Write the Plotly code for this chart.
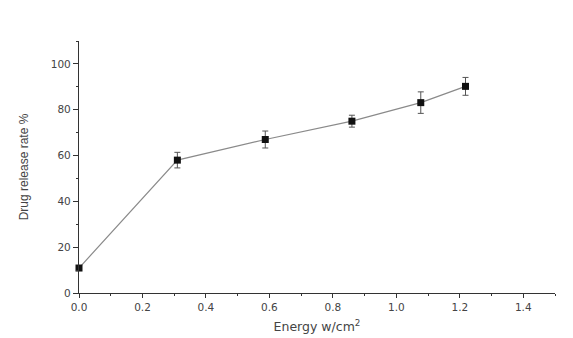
import plotly.graph_objects as go

energy = [0.0, 0.31, 0.587, 0.86, 1.077, 1.218]
release = [10.9, 58.0, 67.0, 75.0, 83.1, 90.2]
error = [1.0, 3.4, 3.7, 2.6, 4.7, 3.9]

x_ticks = [0.0, 0.2, 0.4, 0.6, 0.8, 1.0, 1.2, 1.4]
x_tick_labels = ["0.0", "0.2", "0.4", "0.6", "0.8", "1.0", "1.2", "1.4"]
y_ticks = [0, 20, 40, 60, 80, 100]

fig = go.Figure()
fig.add_trace(go.Scatter(
    x=energy, y=release,
    mode="lines+markers",
    line=dict(color="#8a8a8a", width=1.2),
    marker=dict(symbol="square", size=7, color="#111111"),
    error_y=dict(type="data", array=error, visible=True,
                 color="#555555", thickness=1, width=3),
    showlegend=False,
    cliponaxis=False,
))

tick_font = dict(family="DejaVu Sans", size=10.5, color="#444444")

fig.update_layout(
    width=573, height=338,
    margin=dict(l=79, r=18, t=41, b=45, pad=0),
    paper_bgcolor="white", plot_bgcolor="white",
    xaxis=dict(
        range=[0, 1.5], tickmode="array", tickvals=x_ticks, ticktext=x_tick_labels,
        automargin=False,
        showgrid=False, zeroline=False, showline=True, linecolor="#333333", linewidth=1.2,
        ticks="outside", ticklen=4, tickwidth=1, tickcolor="#333333",
        minor=dict(tickvals=[0.1, 0.3, 0.5, 0.7, 0.9, 1.1, 1.3, 1.5], ticks="outside",
                   ticklen=2, tickcolor="#333333"),
        tickfont=tick_font,
        title=dict(text="Energy w/cm<sup>2</sup>",
                   font=dict(family="DejaVu Sans", size=12.5, color="#444444"),
                   standoff=10),
    ),
    yaxis=dict(
        range=[0, 110], tickmode="array", tickvals=y_ticks,
        automargin=False,
        showgrid=False, zeroline=False, showline=True, linecolor="#333333", linewidth=1.2,
        ticks="outside", ticklen=5, tickwidth=1, tickcolor="#333333",
        minor=dict(tickvals=[10, 30, 50, 70, 90, 110], ticks="outside",
                   ticklen=2, tickcolor="#333333"),
        tickfont=tick_font,
        title=dict(text="Drug release rate %",
                   font=dict(family="Liberation Sans", size=12, color="#444444"),
                   standoff=19),
    ),
)

fig.write_html("out.html")
